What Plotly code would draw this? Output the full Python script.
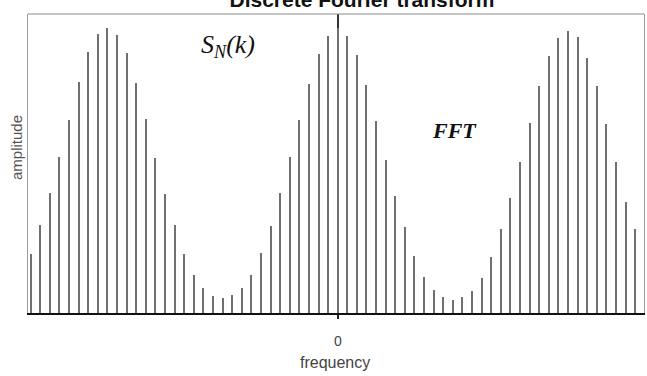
import plotly.graph_objects as go

# FFT bins (fftshift order), k = -32 .. 31
freq_bins = list(range(-32, 32))
amplitude = [59, 87, 119, 155, 192, 229, 259, 277, 283, 276, 258, 228, 193, 154, 118, 87,
             59, 38, 25, 17, 15, 18, 25, 38, 60, 86, 119, 155, 192, 227, 257, 275,
             283, 275, 256, 226, 191, 152, 116, 85, 57, 36, 23, 16, 13, 16, 22, 35,
             56, 83, 114, 150, 189, 225, 255, 273, 280, 274, 253, 225, 188, 150, 110, 83]
tick_vals = [0]
tick_text = ["0"]

# plot-area geometry (pixels) for placing annotations
L, R, T, B = 28, 644, 14, 313
W, H = 647, 376


def px(x):
    return (x - L) / (R - L)


def py(y):
    return (B - y) / (B - T)


fig = go.Figure()
fig.add_trace(go.Bar(x=freq_bins, y=amplitude, width=0.15,
                     marker=dict(color="#707070", line=dict(width=0)),
                     showlegend=False, hoverinfo="x+y"))

fig.update_layout(
    width=W, height=H, autosize=False,
    margin=dict(l=L, r=W - R, t=T, b=H - B, pad=0),
    paper_bgcolor="white", plot_bgcolor="white",
    bargap=0,
    xaxis=dict(range=[-32.3, 31.9], showgrid=False,
               zeroline=True, zerolinecolor="#333333", zerolinewidth=1.5,
               showline=True, linecolor="#111111", linewidth=2, mirror=False,
               tickmode="array", tickvals=tick_vals, ticktext=tick_text,
               ticks="outside", ticklen=4, tickcolor="#222222", tickwidth=1.5,
               tickfont=dict(family="Liberation Sans, Arial", size=14, color="#444444"),
               ticklabelstandoff=10),
    yaxis=dict(range=[0, 297], showgrid=False, zeroline=False,
               showticklabels=False, ticks="",
               showline=True, linecolor="#9a9a9a", linewidth=1, mirror=True),
    shapes=[dict(type="line", xref="paper", yref="paper", x0=0, x1=1, y0=1, y1=1,
                 line=dict(color="#8a8a8a", width=1))],
    annotations=[
        dict(text="<b>\u201cDiscrete Fourier transform\u201d</b>", xref="paper", yref="paper",
             x=px(362), y=py(13), xanchor="center", yanchor="bottom", showarrow=False,
             font=dict(family="Liberation Sans, Arial", size=21, color="#111111")),
        dict(text="<i>S<sub>N</sub>(k)</i>", xref="paper", yref="paper",
             x=px(228), y=py(46), xanchor="center", yanchor="middle", showarrow=False,
             font=dict(family="Liberation Serif, Times New Roman", size=26, color="#111111")),
        dict(text="<b><i>FFT</i></b>", xref="paper", yref="paper",
             x=px(454), y=py(130), xanchor="center", yanchor="middle", showarrow=False,
             font=dict(family="Liberation Serif, Times New Roman", size=22, color="#111111")),
        dict(text="frequency", xref="paper", yref="paper",
             x=px(335), y=py(363), xanchor="center", yanchor="middle", showarrow=False,
             font=dict(family="Liberation Sans, Arial", size=16, color="#444444")),
        dict(text="amplitude", xref="paper", yref="paper", textangle=-90,
             x=px(16), y=py(148), xanchor="center", yanchor="middle", showarrow=False,
             font=dict(family="Liberation Sans, Arial", size=15, color="#555555")),
    ],
)

fig.write_html("out.html", config={"responsive": False, "displayModeBar": False},
               post_script="document.body.style.margin='0';document.body.style.overflow='hidden';")
